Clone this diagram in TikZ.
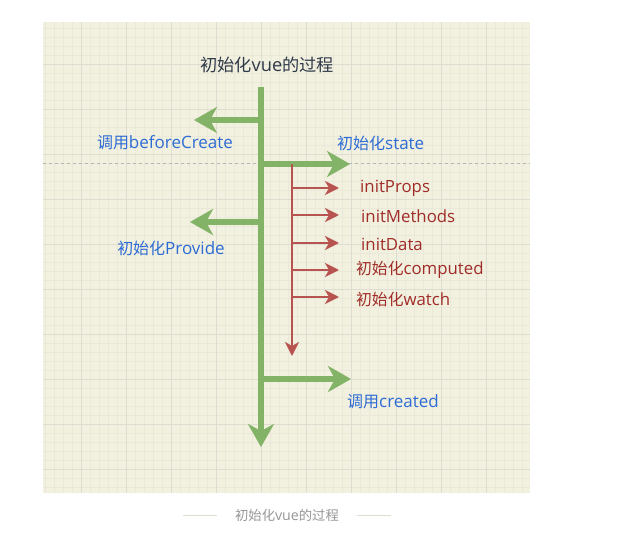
\documentclass[tikz,border=0pt]{standalone}
\usepackage{fontspec}
\setmainfont{Open Sans}
\newfontfamily\cjk[Scale=0.94]{Noto Sans CJK SC}
\usepackage{tikz}
\usetikzlibrary{arrows.meta}
\definecolor{paper}{RGB}{242,240,223}
\definecolor{gridminor}{RGB}{234,232,217}
\definecolor{gridmajor}{RGB}{222,221,209}
\definecolor{flowgreen}{RGB}{130,179,102}
\definecolor{flowred}{RGB}{184,84,80}
\definecolor{labelblue}{RGB}{45,108,212}
\definecolor{labelred}{RGB}{160,44,40}
\definecolor{titlegray}{RGB}{47,58,72}
\definecolor{captiongray}{RGB}{150,150,150}
\def\greentip{{Stealth[length=23pt,width=26pt,inset=7pt]}}
\def\redtip{{Stealth[length=14pt,width=14pt,inset=4pt]}}

\begin{document}
\begin{tikzpicture}[x=1pt,y=-1pt,
    trunk/.style={draw=flowgreen,line width=6pt,-\greentip},
    branch/.style={draw=flowred,line width=2.2pt,-\redtip},
    bluelabel/.style={text=labelblue,font=\fontsize{17}{19}\selectfont,inner sep=0pt},
    redlabel/.style={text=labelred,font=\fontsize{16.8}{19}\selectfont,inner sep=0pt,anchor=west}]
    \useasboundingbox (0,0) rectangle (635,533);
    % paper and grid
    \fill[paper] (43,22) rectangle (530,493);
    \begin{scope}
        \clip (43,22) rectangle (530,493);
        \foreach \x in {0,...,60} \draw[gridminor,line width=0.6pt] (45+9*\x,22) -- (45+9*\x,493);
        \foreach \y in {0,...,60} \draw[gridminor,line width=0.6pt] (43,28+9*\y) -- (530,28+9*\y);
        \foreach \x in {0,...,10} \draw[gridmajor,line width=1pt] (81+45*\x,22) -- (81+45*\x,493);
        \foreach \y in {0,...,10} \draw[gridmajor,line width=1pt] (43,64+45*\y) -- (530,64+45*\y);
    \end{scope}
    \draw[captiongray!70,dashed,line width=0.7pt] (43,163) -- (530,163);

    % main flow
    \node[text=titlegray,font=\fontsize{18.3}{20}\selectfont,inner sep=0pt] (title) at (267,65) {{\cjk 初始化}vue{\cjk 的过程}};
    \coordinate (top) at (261,87);
    \coordinate (bottom) at (261,447);
    \coordinate (b1) at (261,120);
    \coordinate (b2) at (261,164);
    \coordinate (b3) at (261,222);
    \coordinate (b4) at (261,379);
    \coordinate (t1) at (194,120);
    \coordinate (t2) at (350,164);
    \coordinate (t3) at (190,222);
    \coordinate (t4) at (351,379);
    \draw[trunk] (b1) -- (t1);
    \draw[trunk] (b2) -- (t2);
    \draw[trunk] (b3) -- (t3);
    \draw[trunk] (b4) -- (t4);
    \draw[trunk] (top) -- (bottom);
    \node[bluelabel] (beforecreate) at (165,143) {{\cjk 调用}beforeCreate};
    \node[bluelabel,anchor=west] (state) at (337,143) {{\cjk 初始化}state};
    \node[bluelabel] (provide) at (171,248) {{\cjk 初始化}Provide};
    \node[bluelabel,anchor=west] (created) at (347,402) {{\cjk 调用}created};

    % init state
    \coordinate (stop) at (292,164);
    \coordinate (send) at (292,356);
    \draw[branch] (stop) -- (send);
    \foreach \n/\y in {props/188,methods/215,data/243,computed/270,watch/297} {
        \coordinate (s-\n) at (292,\y);
        \coordinate (e-\n) at (339,\y);
        \draw[branch] (s-\n) -- (e-\n);
    }
    \node[redlabel] (initprops) at (360,188) {initProps};
    \node[redlabel] (initmethods) at (361,216) {initMethods};
    \node[redlabel] (initdata) at (361,244) {initData};
    \node[redlabel] (computed) at (356,270) {{\cjk 初始化}computed};
    \node[redlabel] (watch) at (356,299) {{\cjk 初始化}watch};

    % caption
    \node[text=captiongray,font=\fontsize{14.2}{16}\selectfont,inner sep=0pt] (caption) at (287,515) {{\cjk 初始化}vue{\cjk 的过程}};
    \coordinate (l1) at (183,515);
    \coordinate (l2) at (217,515);
    \coordinate (r1) at (357,515);
    \coordinate (r2) at (391,515);
    \draw[gridmajor,line width=0.8pt] (l1) -- (l2);
    \draw[gridmajor,line width=0.8pt] (r1) -- (r2);
\end{tikzpicture}
\end{document}
